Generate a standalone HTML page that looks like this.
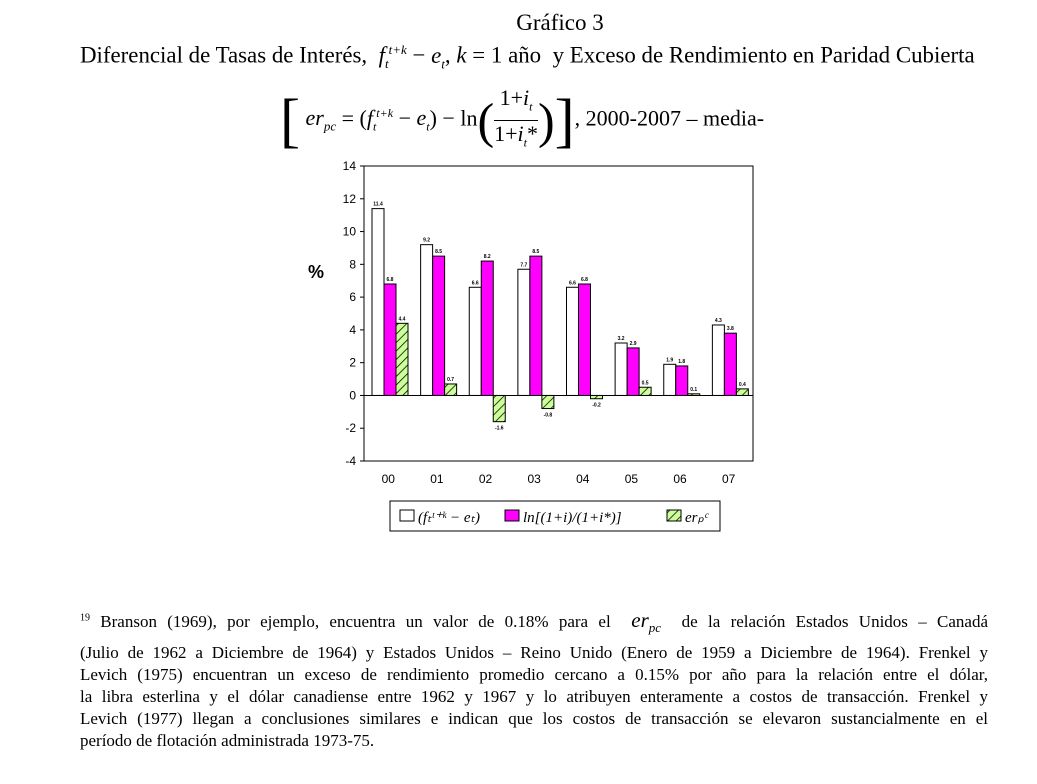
<!DOCTYPE html>
<html><head><meta charset="utf-8"><style>
body{margin:0;background:#fff;width:1037px;height:784px;overflow:hidden;font-family:"Liberation Serif",serif;}
.t{position:absolute;white-space:nowrap;color:#000}
.fl{position:absolute;left:80px;width:908px;font-size:17px;text-align:justify;text-align-last:justify;white-space:nowrap}
</style></head><body>
<div class="t" style="left:0;width:1120px;text-align:center;top:10px;font-size:23px">Gráfico 3</div>
<div class="t" style="left:80px;top:42px;font-size:22.9px">Diferencial de Tasas de Interés, &nbsp;<i>f</i><sub style="font-size:13px"><i>t</i></sub><sup style="font-size:13px"><i>t+k</i></sup> − <i>e<sub style="font-size:13px">t</sub></i>, <i>k</i> = 1 año &nbsp;y Exceso de Rendimiento en Paridad Cubierta</div>
<div class="t" style="left:280px;top:78px;font-size:22px;line-height:70px"><span style="font-size:60px;font-weight:100;vertical-align:middle">[</span> <i>er<sub style="font-size:13px">pc</sub></i> = (<i>f</i><sub style="font-size:12px"><i>t</i></sub><sup style="font-size:12px"><i>t+k</i></sup> − <i>e<sub style="font-size:12px">t</sub></i>) − ln<span style="font-size:50px;vertical-align:middle">(</span><span style="display:inline-block;vertical-align:middle;text-align:center;line-height:26px"><span style="display:block;border-bottom:1px solid #000">1+<i>i<sub style="font-size:12px">t</sub></i></span><span style="display:block">1+<i>i<sub style="font-size:12px">t</sub></i>*</span></span><span style="font-size:50px;vertical-align:middle">)</span><span style="font-size:60px;vertical-align:middle">]</span>, 2000-2007 – media-</div>
<svg id="c" width="1037" height="784" style="position:absolute;left:0;top:0">
<defs><pattern id="h" width="6" height="6" patternUnits="userSpaceOnUse" patternTransform="rotate(45)"><rect width="6" height="6" fill="#ccff99"/><line x1="0" y1="0" x2="0" y2="6" stroke="#000" stroke-width="1.5"/></pattern></defs>
</svg>
<div class="t" style="left:308px;top:262px;font-size:18px;font-family:'Liberation Sans',sans-serif;font-weight:bold">%</div>
<div>
<div class="fl" style="top:608px"><sup style="font-size:10px">19</sup> Branson (1969), por ejemplo, encuentra un valor de 0.18% para el &nbsp;<i style="font-size:21px">er<sub style="font-size:13px">pc</sub></i>&nbsp; de la relación Estados Unidos – Canadá</div>
<div class="fl" style="top:643px">(Julio de 1962 a Diciembre de 1964) y Estados Unidos – Reino Unido (Enero de 1959 a Diciembre de 1964). Frenkel y</div>
<div class="fl" style="top:665px">Levich (1975) encuentran un exceso de rendimiento promedio cercano a 0.15% por año para la relación entre el dólar,</div>
<div class="fl" style="top:687px">la libra esterlina y el dólar canadiense entre 1962 y 1967 y lo atribuyen enteramente a costos de transacción. Frenkel y</div>
<div class="fl" style="top:709px">Levich (1977) llegan a conclusiones similares e indican que los costos de transacción se elevaron sustancialmente en el</div>
<div class="fl" style="top:731px;text-align-last:left">período de flotación administrada 1973-75.</div>
</div>
<script>
const categories=["00","01","02","03","04","05","06","07"];
const diffValues=[11.4,9.2,6.6,7.7,6.6,3.2,1.9,4.3];
const lnValues=[6.8,8.5,8.2,8.5,6.8,2.9,1.8,3.8];
const erValues=[4.4,0.7,-1.6,-0.8,-0.2,0.5,0.1,0.4];
const yTicks=[14,12,10,8,6,4,2,0,-2,-4];
const svg=document.getElementById('c');const NS='http://www.w3.org/2000/svg';
const L=364,R=753,T=166,B=461,ymin=-4,ymax=14;
const y=v=>B-(v-ymin)/(ymax-ymin)*(B-T);
const gw=(R-L)/categories.length;
const x=i=>L+gw*i;
function mk(t,a){const e=document.createElementNS(NS,t);for(const k in a)e.setAttribute(k,a[k]);svg.appendChild(e);return e;}
let f=mk('rect',{x:L,y:T,width:R-L,height:B-T,fill:'#fff',stroke:'#000','stroke-width':1});

yTicks.forEach(v=>{let l=mk('line',{x1:L-4,x2:L,y1:y(v),y2:y(v),stroke:'#000'});

let t=mk('text',{x:L-8,y:y(v)+4,'text-anchor':'end','font-size':12,'font-family':'Liberation Sans,sans-serif'});t.textContent=v;
});
const series=[[diffValues,'#fff'],[lnValues,'#ff00ff'],[erValues,'url(#h)']];
categories.forEach((c,i)=>{
 series.forEach((s,j)=>{const v=s[0][i];const bx=x(i)+8+j*12;
  let r=mk('rect',{x:bx,y:Math.min(y(v),y(0)),width:12,height:Math.abs(y(v)-y(0)),fill:s[1],stroke:'#000','stroke-width':1});
  
  let t=mk('text',{x:bx+6,y:v>=0?y(v)-3:y(v)+8,'text-anchor':'middle','font-size':5,'font-weight':'bold','font-family':'Liberation Sans,sans-serif'});t.textContent=v.toFixed(1);
  });
 let t=mk('text',{x:x(i)+gw/2,y:B+22,'text-anchor':'middle','font-size':12,'font-family':'Liberation Sans,sans-serif'});t.textContent=c;
 
});
let z=mk('line',{x1:L,x2:R,y1:y(0),y2:y(0),stroke:'#000'});

let lg=mk('rect',{x:390,y:501,width:330,height:30,fill:'#fff',stroke:'#000'});

[[400,'#fff','(f\u209C\u1d57\u207a\u1d4f − e\u209C)'],[505,'#ff00ff','ln[(1+i)/(1+i*)]'],[667,'url(#h)','er\u209A\u1d9c']].forEach((d,k)=>{
 let s=mk('rect',{x:d[0],y:510,width:14,height:11,fill:d[1],stroke:'#000'});
 
 let t=mk('text',{x:d[0]+18,y:522,'font-size':15,'font-style':'italic','font-family':'Liberation Serif,serif'});t.textContent=d[2];
 });
</script>
</body></html>
